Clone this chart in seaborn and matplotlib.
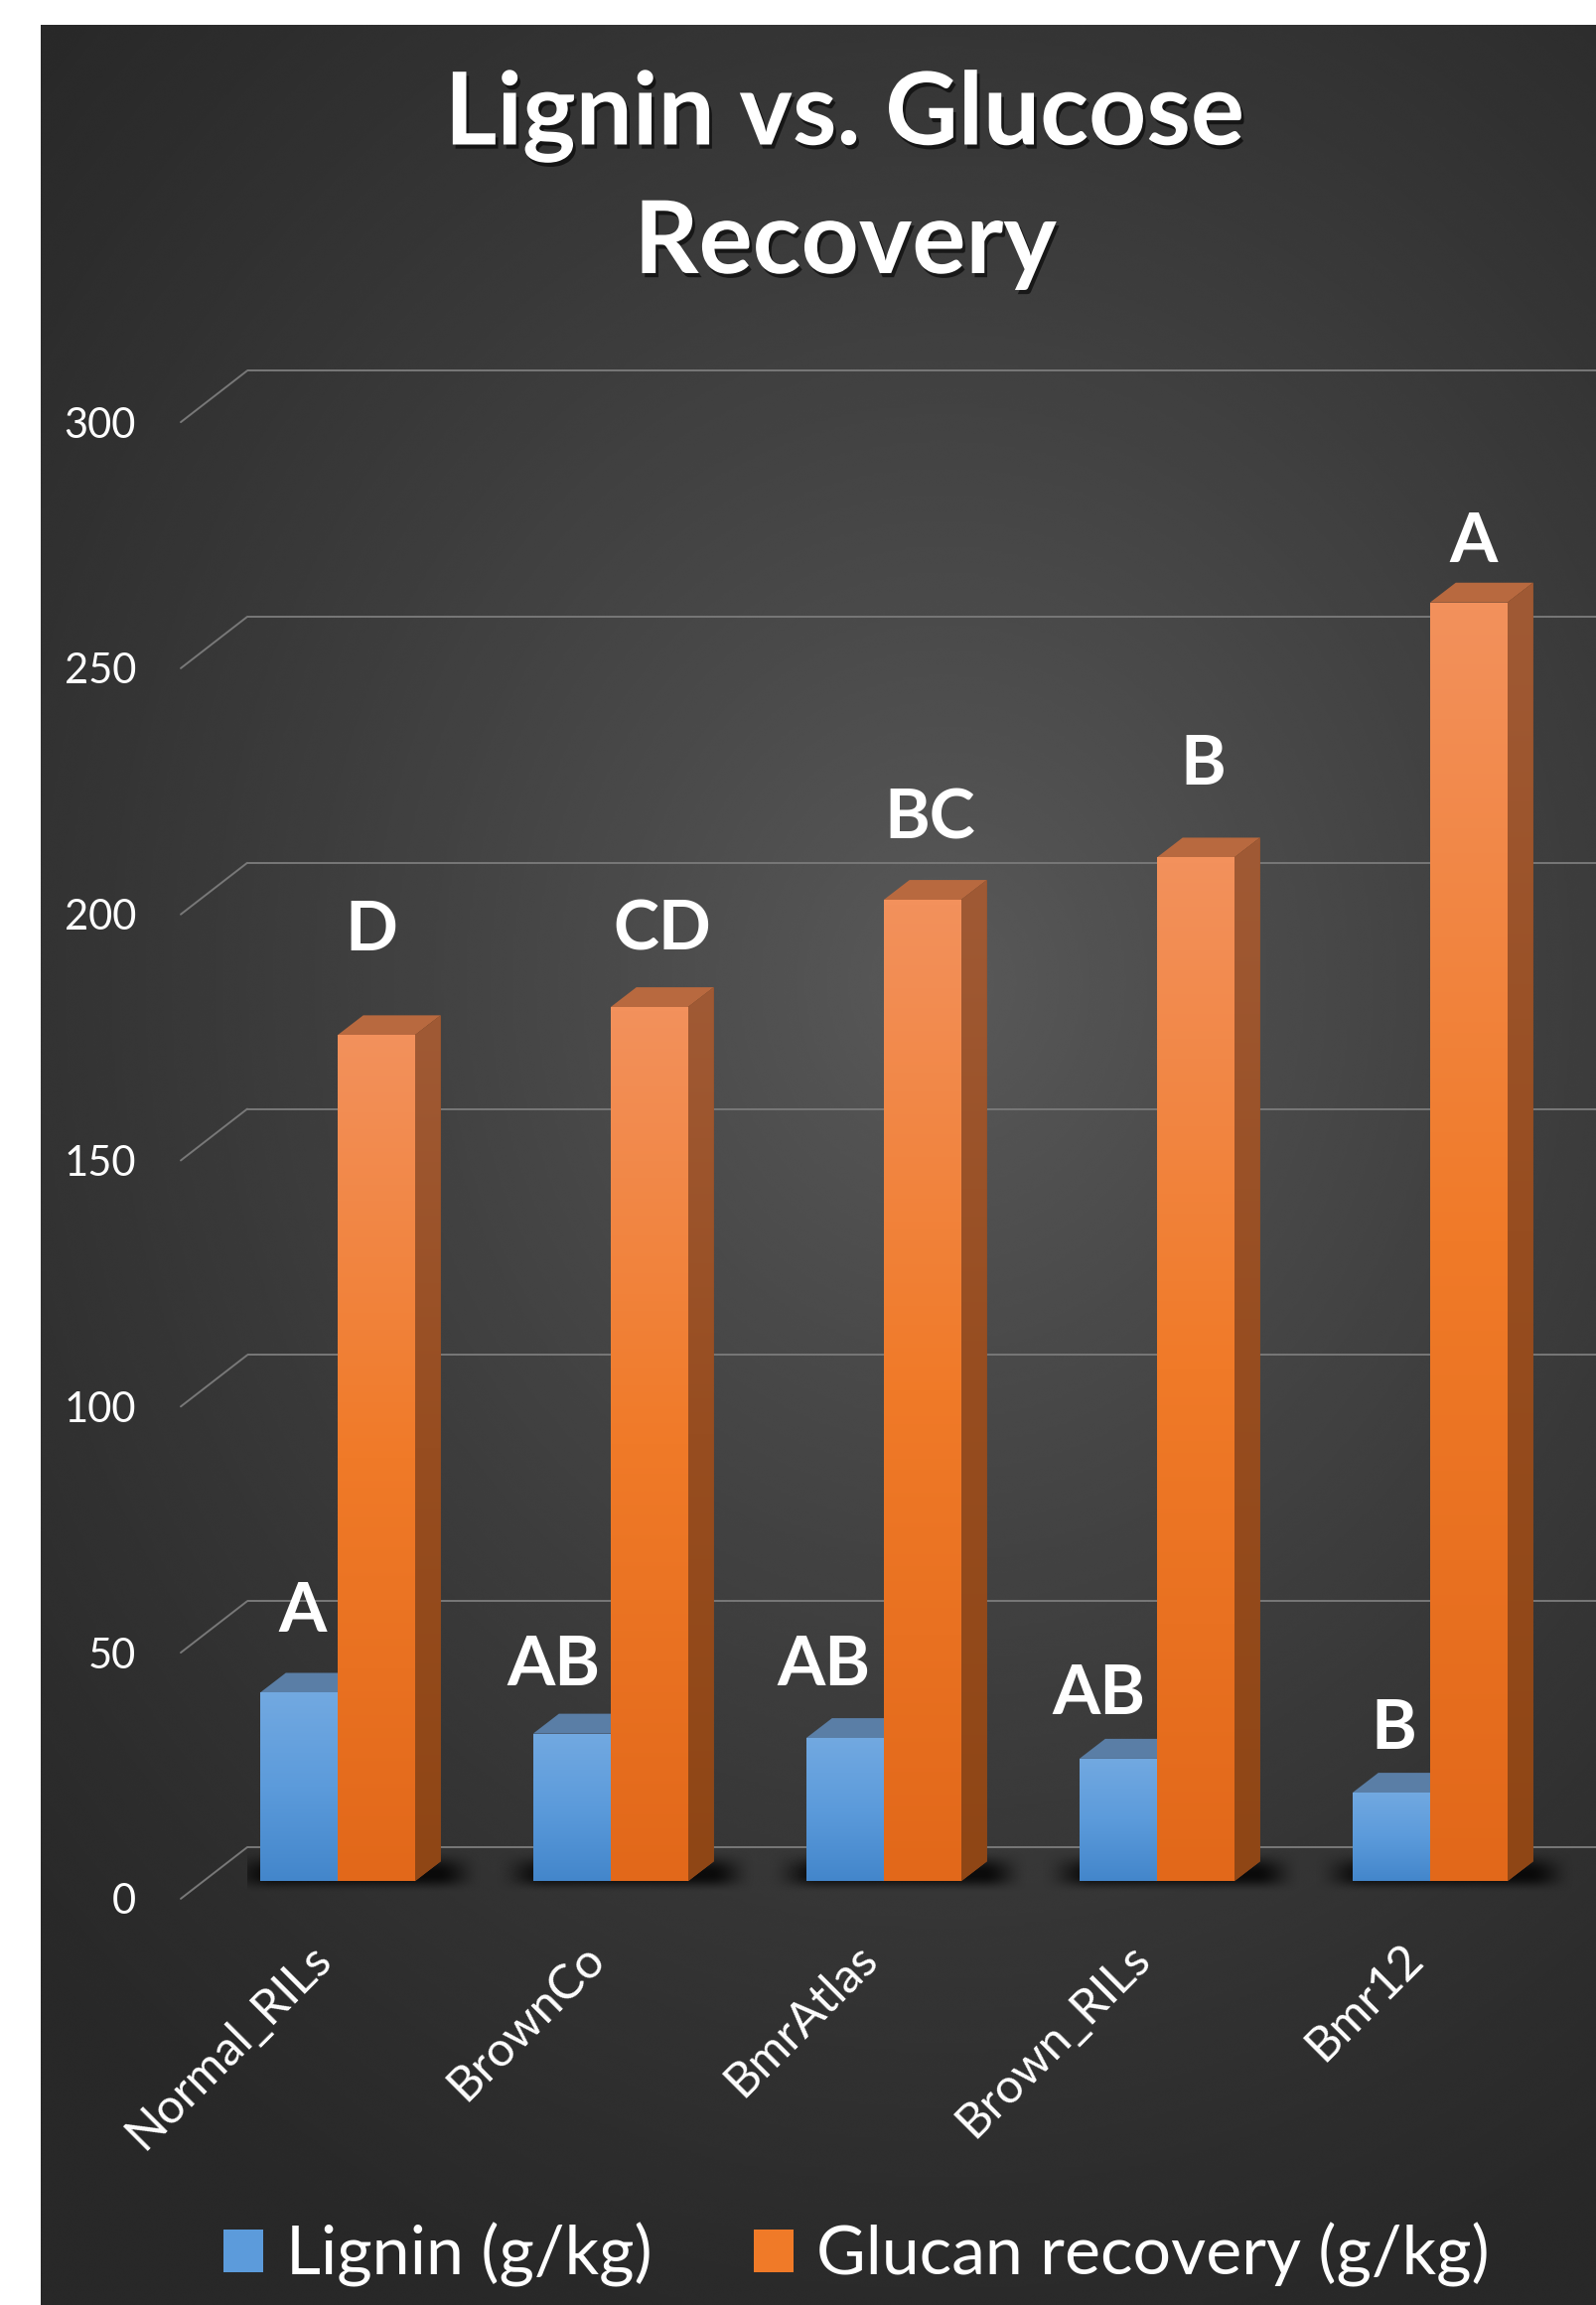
import numpy as np
import pandas as pd
import matplotlib
matplotlib.use("Agg")
import matplotlib.pyplot as plt
import seaborn as sns
from matplotlib.patches import Polygon, Patch
from matplotlib.colors import LinearSegmentedColormap
from matplotlib.transforms import ScaledTranslation
import matplotlib.patheffects as pe

# ---------------- data ----------------
categories = ["Normal_RILs", "BrownCo", "BmrAtlas", "Brown_RILs", "Bmr12"]
lignin = [38.3, 30.0, 29.1, 24.9, 18.0]
glucan = [171.9, 177.6, 199.4, 208.0, 259.8]
lignin_letters = ["A", "AB", "AB", "AB", "B"]
glucan_letters = ["D", "CD", "BC", "B", "A"]
series_names = ["Lignin (g/kg)", "Glucan recovery (g/kg)"]
yticks = [0, 50, 100, 150, 200, 250, 300]
title_lines = ["Lignin vs. Glucose", "Recovery"]

df = pd.DataFrame({
    "Genotype": categories * 2,
    "Value": lignin + glucan,
    "Series": [series_names[0]] * len(categories) + [series_names[1]] * len(categories),
})

# ---------------- layout / style ----------------
W, H, DPI = 1608, 2321, 100
FONT = ["Lato", "DejaVu Sans"]
BLUE = "#5B9BD5"
ORANGE = "#ED7D31"
BLUE_GRAD = ["#4386CB", "#5C9BDB", "#72A9E1"]
ORANGE_GRAD = ["#E2681A", "#F07A28", "#F3915C"]
ORANGE_SIDE = ["#8F4615", "#974D20", "#A05A35"]
ORANGE_TOP = "#B8693F"
BLUE_TOP = "#5A7EA6"
GRID_COLOR = "#787878"
BACK_OFF_PX = 34.3    # back wall offset above bar base (px)
FRONT_OFF_PX = -17.6  # front edge offset below bar base (px)
DEPTH_PX = (26, 20)   # bar depth offset (px)
# label nudges (px) relative to bar front-centre / back-top
lig_dx = [4, -18, -21, -19, 2]
lig_dy = [61, 48, 53, 44, 44]
glu_dx = [-5, 13, 7, 7, 5]
glu_dy = [85, 57, 61, 73, 40]

sns.set_style("white")
plt.rcParams["font.family"] = FONT

fig = plt.figure(figsize=(W / DPI, H / DPI), dpi=DPI, facecolor="white")

# background panel with radial gradient
bg = fig.add_axes([41 / W, 0, 1 - 41 / W, 1 - 25 / H])
bg.set_axis_off()
ny, nx = 700, 600
yy, xx = np.mgrid[0:1:ny * 1j, 0:1:nx * 1j]
r = np.sqrt(((xx - 0.58) / 0.80) ** 2 + ((yy - 0.42) / 0.62) ** 2)
val = 0.160 + 0.19 * np.clip(1 - r, 0, 1) ** 1.2
bg.imshow(val, cmap="gray", vmin=0, vmax=1, extent=(0, 1, 0, 1), aspect="auto",
          origin="upper", interpolation="bicubic")
bg.set_xlim(0, 1)
bg.set_ylim(0, 1)

# main axes
ax = fig.add_axes([249 / W, 1 - 1912 / H, 1 - 249 / W, (1912 - 373.3) / H])
ax.patch.set_alpha(0)
sns.barplot(data=df, x="Genotype", y="Value", hue="Series", palette=[BLUE, ORANGE],
            width=0.567, dodge=True, ax=ax, legend=False, saturation=1,
            errorbar=None, zorder=3)
ax.set_xlim(-0.330, 4.6116)
ax.set_ylim(-3.57, 306.9)
for s in ax.spines.values():
    s.set_visible(False)
ax.set_xlabel("")
ax.set_ylabel("")
ax.grid(False)


def px2data(dxp, dyp):
    inv = ax.transData.inverted()
    x0, y0 = inv.transform((0, 0))
    x1, y1 = inv.transform((dxp, dyp))
    return x1 - x0, y1 - y0


DX, DY = px2data(*DEPTH_PX)
_, BACK_OFF = px2data(0, BACK_OFF_PX)
_, FRONT_OFF = px2data(0, FRONT_OFF_PX)
GX_BACK = ax.get_xlim()[0]
GX_FRONT = GX_BACK + px2data(-67, 0)[0]

# gridlines (3D style: back wall line + diagonal floor edge)
for v in yticks:
    ax.plot([GX_BACK, ax.get_xlim()[1]], [v + BACK_OFF, v + BACK_OFF],
            color=GRID_COLOR, lw=1.4, zorder=1, clip_on=False, solid_capstyle="butt")
    ax.plot([GX_FRONT, GX_BACK], [v + FRONT_OFF, v + BACK_OFF],
            color=GRID_COLOR, lw=1.4, zorder=1, clip_on=False)


def grad_fill(patch, colors, z, extent):
    cmap = LinearSegmentedColormap.from_list("g", colors)
    img = ax.imshow(np.linspace(0, 1, 256).reshape(-1, 1), cmap=cmap, extent=extent,
                    origin="lower", aspect="auto", zorder=z, interpolation="bicubic")
    img.set_clip_path(patch)


blue_bars = list(ax.containers[0])
orange_bars = list(ax.containers[1])

# soft shadows below each pair of bars
for b, o in zip(blue_bars, orange_bars):
    sx0 = b.get_x() + px2data(-40, 0)[0]
    sx1 = o.get_x() + o.get_width() + DX + px2data(42, 0)[0]
    sy0 = px2data(0, -12)[1]
    sy1 = DY + px2data(0, 12)[1]
    nxs, nys = 300, 80
    u = np.linspace(0, 1, nxs)
    v = np.linspace(0, 1, nys)
    fx = np.clip(np.minimum(u / 0.20, (1 - u) / 0.17), 0, 1)
    fx = fx * fx * (3 - 2 * fx)
    fy = np.clip(np.minimum(v / 0.40, (1 - v) / 0.55), 0, 1)
    fy = fy * fy * (3 - 2 * fy)
    rgba = np.zeros((nys, nxs, 4))
    rgba[..., 3] = 0.80 * np.outer(fy, fx)
    ax.imshow(rgba, extent=(sx0, sx1, sy0, sy1), origin="lower", aspect="auto",
              zorder=2, interpolation="bicubic")

# 3D faces + gradients
for group, front_cols, top_col, zb in ((blue_bars, BLUE_GRAD, BLUE_TOP, 3),
                                       (orange_bars, ORANGE_GRAD, ORANGE_TOP, 5)):
    for rect in group:
        x0, w, h = rect.get_x(), rect.get_width(), rect.get_height()
        rect.set_zorder(zb)
        rect.set_linewidth(0)
        grad_fill(rect, front_cols, zb + 0.1, (x0, x0 + w, 0, h))
        top = Polygon([(x0, h), (x0 + DX, h + DY), (x0 + w + DX, h + DY), (x0 + w, h)],
                      closed=True, facecolor=top_col, edgecolor="none", zorder=zb - 0.5)
        ax.add_patch(top)
        side = Polygon([(x0 + w, 0), (x0 + w + DX, DY), (x0 + w + DX, h + DY), (x0 + w, h)],
                       closed=True, facecolor=ORANGE_SIDE[1], edgecolor="none", zorder=zb - 0.5)
        ax.add_patch(side)
        if group is orange_bars:
            grad_fill(side, ORANGE_SIDE, zb - 0.4, (x0 + w, x0 + w + DX, 0, h + DY))

# significance letters
PT = 72 / DPI
for bars, letters, dxs, dys in ((blue_bars, lignin_letters, lig_dx, lig_dy),
                                (orange_bars, glucan_letters, glu_dx, glu_dy)):
    for rect, letter, dx, dy in zip(bars, letters, dxs, dys):
        cx = rect.get_x() + rect.get_width() / 2
        ax.annotate(letter, xy=(cx, rect.get_height() + DY), xytext=(dx * PT, dy * PT),
                    textcoords="offset points", ha="center", va="center",
                    fontsize=50, fontweight="bold", color="white", zorder=10,
                    annotation_clip=False)

# y tick labels at the front edge of the floor lines
ax.set_yticks(yticks)
ax.set_yticklabels([str(v) for v in yticks])
ax.tick_params(axis="y", length=0, pad=112 * PT, labelsize=30, labelcolor="white")
for lab in ax.get_yticklabels():
    lab.set_transform(lab.get_transform() + ScaledTranslation(0, FRONT_OFF_PX / DPI, fig.dpi_scale_trans))

# x tick labels
ax.tick_params(axis="x", length=0, pad=38, labelsize=35, labelcolor="white")
for lab in ax.get_xticklabels():
    lab.set_rotation(45)
    lab.set_ha("right")
    lab.set_va("center")
    lab.set_rotation_mode("anchor")
    lab.set_transform(lab.get_transform() + ScaledTranslation(-14 / DPI, 0, fig.dpi_scale_trans))

# title
shadow = [pe.SimplePatchShadow(offset=(2, -3), shadow_rgbFace="black", alpha=0.6), pe.Normal()]
fig.text(850 / W, 1 - 117 / H, title_lines[0], ha="center", va="center", fontsize=73,
         fontweight="bold", color="white", path_effects=shadow)
fig.text(851 / W, 1 - 246 / H, title_lines[1], ha="center", va="center", fontsize=73,
         fontweight="bold", color="white", path_effects=shadow)

# legend
handles = [Patch(facecolor=BLUE_GRAD[1], edgecolor="none"),
           Patch(facecolor=ORANGE_GRAD[1], edgecolor="none")]
fig.legend(handles=handles, labels=series_names, loc="center",
           bbox_to_anchor=(862 / W, 1 - 2270 / H), ncol=2, frameon=False, fontsize=49,
           labelcolor="white", handlelength=0.6, handleheight=0.6,
           handletextpad=0.33, columnspacing=1.5)

fig.savefig("out.png", dpi=DPI, facecolor="white")
